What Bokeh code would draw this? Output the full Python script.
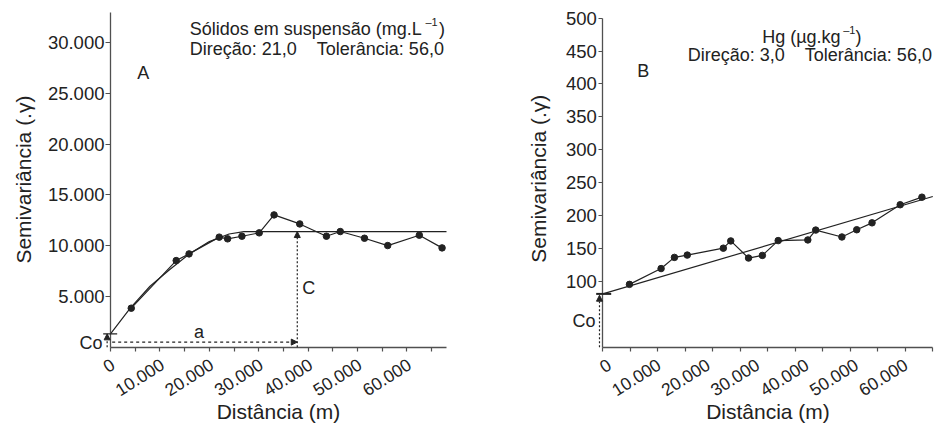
from math import pi
from bokeh.plotting import figure
from bokeh.layouts import row
from bokeh.models import FixedTicker, Label, Arrow, NormalHead, Range1d
from bokeh.embed import file_html
from bokeh.resources import INLINE

FONT = "Liberation Sans"
INK = "#222222"
AXIS = "#505050"
NB = "\u00a0"

# ---------------- Panel A : Sólidos em suspensão ----------------
lag_a = [4200, 13300, 15900, 22000, 23700, 26600, 30100, 33100, 38300,
         43700, 46500, 51400, 56100, 62500, 67100]
gamma_a = [3840, 8530, 9190, 10840, 10670, 10930, 11260, 13030, 12140,
           10930, 11390, 10730, 10010, 11030, 9780]
model_lag_a = [0, 4000, 8000, 12000, 16000, 20000, 24000, 27000, 68000]
model_gamma_a = [1310, 3850, 6000, 7650, 9200, 10400, 11150, 11390, 11390]
nugget_a = 1310
sill_a = 11390
range_a = 37800

xticks_a = [0, 10000, 20000, 30000, 40000, 50000, 60000]
xtick_labels_a = ["0", "10.000", "20.000", "30.000", "40.000", "50.000", "60.000"]
xminor_a = [0, 5000, 10000, 15000, 20000, 25000, 30000, 35000, 40000,
            45000, 50000, 55000, 60000, 65000]
yticks_a = [5000, 10000, 15000, 20000, 25000, 30000]
ytick_labels_a = ["5.000", "10.000", "15.000", "20.000", "25.000", "30.000"]

# ---------------- Panel B : Hg ----------------
lag_b = [5400, 11800, 14500, 17100, 24400, 25900, 29500, 32300, 35500,
         41500, 43100, 48400, 51400, 54500, 60200, 64600]
gamma_b = [95.5, 119.5, 136.5, 140, 150.5, 161.5, 135.5, 139.5, 162,
           163, 178, 167.5, 178.5, 189, 216.5, 228]
model_lag_b = [0, 66800]
model_gamma_b = [81, 229]
nugget_b = 81

xticks_b = [0, 10000, 20000, 30000, 40000, 50000, 60000]
xtick_labels_b = ["0", "10.000", "20.000", "30.000", "40.000", "50.000", "60.000"]
yticks_b = [100, 150, 200, 250, 300, 350, 400, 450, 500]
ytick_labels_b = ["100", "150", "200", "250", "300", "350", "400", "450", "500"]

H = 425


def make_fig(width, xr, yr, xbounds, ybounds, tick_out_y, standoff_y):
    p = figure(width=width, height=H, x_range=Range1d(*xr), y_range=Range1d(*yr),
               output_backend="svg", toolbar_location=None,
               min_border_left=0, min_border_right=0,
               min_border_top=0, min_border_bottom=0)
    p.grid.visible = False
    p.outline_line_color = None
    p.background_fill_color = "white"
    p.border_fill_color = "white"
    for ax in (p.xaxis[0], p.yaxis[0]):
        ax.axis_line_color = AXIS
        ax.axis_line_width = 1.3
        ax.major_tick_line_color = AXIS
        ax.major_tick_line_width = 1.2
        ax.minor_tick_line_color = AXIS
        ax.minor_tick_line_width = 1.2
        ax.major_tick_in = 0
        ax.minor_tick_in = 0
        ax.major_label_text_font = FONT
        ax.major_label_text_font_size = "18.5px"
        ax.major_label_text_color = INK
        ax.fixed_location = 0
    xa, ya = p.xaxis[0], p.yaxis[0]
    xa.bounds = xbounds
    ya.bounds = ybounds
    ya.major_tick_out = tick_out_y
    ya.major_label_standoff = standoff_y
    xa.minor_tick_out = 4
    return p


def add_label(p, x, y, text, size="18px", align="left", baseline="middle", angle=0.0):
    p.add_layout(Label(x=x, y=y, text=text, text_font=FONT, text_font_size=size,
                       text_color=INK, text_align=align, text_baseline=baseline, angle=angle))


def add_arrow(p, x0, y0, x1, y1, dash="solid", head=True, width=1.2):
    end = NormalHead(size=6, fill_color=INK, line_color=INK, line_width=1) if head else None
    p.add_layout(Arrow(x_start=x0, y_start=y0, x_end=x1, y_end=y1, line_color=INK,
                       line_width=width, line_dash=dash, start=None, end=end))


def add_xtick_labels(p, ticks, labels, dx, dy):
    for t, s in zip(ticks, labels):
        add_label(p, t + dx, dy, s, size="17.5px", align="right", angle=0.56)


# ---------- figure A ----------
pA = make_fig(468, (-22262, 72452), (-7716, 34150), (0, 68000), (0, 33000), 5, 1)
pA.xaxis[0].ticker = FixedTicker(ticks=[], minor_ticks=xminor_a)
pA.yaxis[0].ticker = FixedTicker(ticks=yticks_a, minor_ticks=[])
pA.yaxis[0].major_label_overrides = dict(zip(yticks_a, ytick_labels_a))
add_xtick_labels(pA, xticks_a, xtick_labels_a, 465, -1527)

pA.line(model_lag_a, model_gamma_a, line_color=INK, line_width=1.2)
pA.line(lag_a, gamma_a, line_color=INK, line_width=1.2)
pA.scatter(lag_a, gamma_a, marker="circle", size=6.5, fill_color=INK, line_color=INK)

add_arrow(pA, -680, 0, -680, nugget_a, dash="2 2")
add_arrow(pA, -1480, nugget_a, 1350, nugget_a, head=False)
add_arrow(pA, 340, 500, range_a, 500, dash="3 3")
add_arrow(pA, range_a, 0, range_a, sill_a, dash="2 2")

add_label(pA, -1600, 430, "Co", align="right")
add_label(pA, 17900, 1500, "a", align="center")
add_label(pA, 38800, 5850, "C")
add_label(pA, 5400, 27050, "A")
add_label(pA, 16040, 31313, "Sólidos em suspensão (mg.L")
add_label(pA, 63750, 32062, "–1", size="11px")
add_label(pA, 66480, 31313, ")")
add_label(pA, 16040, 29343, "Direção: 21,0 " + NB * 3 + "Tolerância: 56,0")
add_label(pA, 34000, -6308, "Distância (m)", size="21px", align="center")
add_label(pA, -17700, 16510, "Semivariância (.γ)", size="21px", align="center",
          angle=pi / 2)

# ---------- figure B ----------
pB = make_fig(468, (-27185, 67548), (-119.0, 526.9), (0, 66800), (0, 500), 4, 2)
xminor_b = [k * 66800 / 12 for k in range(13)]
pB.xaxis[0].ticker = FixedTicker(ticks=[], minor_ticks=xminor_b)
pB.yaxis[0].ticker = FixedTicker(ticks=yticks_b, minor_ticks=[])
pB.yaxis[0].major_label_overrides = dict(zip(yticks_b, ytick_labels_b))
add_xtick_labels(pB, xticks_b, xtick_labels_b, 1316, -23.6)

pB.line(model_lag_b, model_gamma_b, line_color=INK, line_width=1.2)
pB.line(lag_b, gamma_b, line_color=INK, line_width=1.2)
pB.scatter(lag_b, gamma_b, marker="circle", size=6.5, fill_color=INK, line_color=INK)

add_arrow(pB, -670, 0, -670, nugget_b - 2, dash="2 2")
add_arrow(pB, -1340, nugget_b, 1700, nugget_b, head=False, width=2)

add_label(pB, -1480, 40, "Co", align="right")
add_label(pB, 6960, 420, "B")
add_label(pB, 32260, 471.4, "Hg (µg.kg")
add_label(pB, 48662, 482.5, "–1", size="11px")
add_label(pB, 51150, 471.4, ")")
add_label(pB, 17200, 443.6, "Direção: 3,0 " + NB * 3 + "Tolerância: 56,0")
add_label(pB, 33440, -97.3, "Distância (m)", size="21px", align="center")
add_label(pB, -13010, 256, "Semivariância (.γ)", size="21px", align="center",
          angle=pi / 2)

layout = row(pA, pB)
open("out.html", "w").write(file_html(layout, INLINE))
